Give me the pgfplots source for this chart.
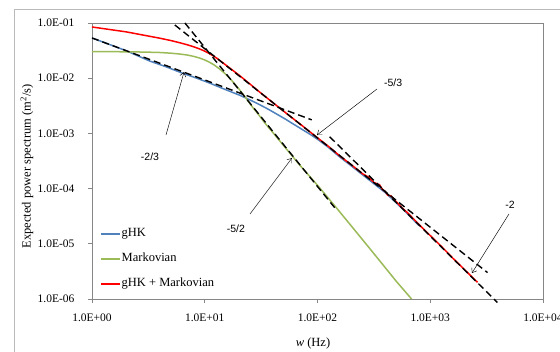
\documentclass[border=0pt]{standalone}
\usepackage{fontspec}
\setmainfont{Liberation Serif}
\newfontfamily\arialfont{Liberation Sans}
\usepackage{pgfplots}
\pgfplotsset{compat=1.18}
\usetikzlibrary{arrows.meta}
\definecolor{ghk}{HTML}{4F81BD}
\definecolor{markv}{HTML}{9BBB59}
\definecolor{sumred}{HTML}{FF0000}
\definecolor{framec}{HTML}{868686}
\begin{document}
\begin{tikzpicture}[x=1pt,y=1pt]
\draw[gray!55, line width=0.8pt] (14,-10) -- (14,343) -- (575,343);
\begin{axis}[
  at={(92pt,53pt)}, anchor=south west,
  scale only axis, width=451pt, height=276pt,
  xmode=log, ymode=log,
  xmin=1, xmax=10000, ymin=1e-6, ymax=1e-1,
  xtick={1,10,100,1000,10000},
  xticklabels={1.0E+00,1.0E+01,1.0E+02,1.0E+03,1.0E+04},
  ytick={1e-6,1e-5,1e-4,1e-3,1e-2,1e-1},
  yticklabels={1.0E-06,1.0E-05,1.0E-04,1.0E-03,1.0E-02,1.0E-01},
  xminorticks=false, yminorticks=false,
  tick align=outside, tick pos=left, major tick length=4pt,
  axis line style={framec}, every tick/.style={framec, line width=0.6pt},
  xticklabel style={font=\fontsize{11.5}{13}\selectfont, yshift=-7pt},
  yticklabel style={font=\fontsize{11.5}{13}\selectfont, xshift=-10pt},
  xlabel={\textit{w} (Hz)},
  ylabel={Expected power spectrum (m\textsuperscript{2}/s)},
  label style={font=\fontsize{12.5}{14}\selectfont},
  xlabel style={at={(axis description cs:0.49,0)}, anchor=center, yshift=-44pt},
  ylabel style={at={(axis description cs:0,0.48)}, anchor=center, yshift=65pt},
  clip=false,
  legend cell align=left,
  legend image code/.code={\draw[#1] (0pt,0pt) -- (19pt,0pt);},
  legend style={at={(axis description cs:0.0177,0.262)}, anchor=north west,
    draw=none, fill=none, inner sep=0pt, row sep=11pt,
    font=\fontsize{12.5}{14}\selectfont,
    nodes={inner sep=1pt, text height=9pt, text depth=3pt}},
]
\addplot[ghk, line width=1.5pt] coordinates {
(1,5.36e-2)(2,3.16e-2)(3.26,2.04e-2)(4.5,1.62e-2)(6.27,1.245e-2)(8.5,1.00e-2)
(11.1,8.13e-3)(15,6.31e-3)(20.5,4.90e-3)(25,4.07e-3)(30.7,3.31e-3)(36,2.79e-3)
(41,2.40e-3)(51.3,1.84e-3)(60,1.51e-3)(70,1.245e-3)(85,9.77e-4)(100,7.85e-4)
(126,5.50e-4)(158,3.72e-4)(200,2.57e-4)(251,1.78e-4)(316,1.23e-4)(398,8.51e-5)
(501,5.50e-5)(631,3.47e-5)(794,2.14e-5)};
\addlegendentry{gHK}
\addplot[markv, line width=1.5pt] coordinates {
(1,3.03e-2)(2,3.01e-2)(3,2.97e-2)(4,2.92e-2)(5,2.84e-2)(6,2.74e-2)(7,2.63e-2)
(8,2.48e-2)(9,2.32e-2)(10,2.14e-2)(11,1.95e-2)(12,1.76e-2)(13.5,1.48e-2)
(15,1.23e-2)(17,9.55e-3)(20,6.46e-3)(23,4.47e-3)(26,3.16e-3)(30,2.19e-3)
(35,1.45e-3)(40,1.05e-3)(50,6.03e-4)(70,2.63e-4)(100,1.15e-4)(150,4.27e-5)
(200,2.09e-5)(300,7.59e-6)(500,2.09e-6)(683,1.0e-6)};
\addlegendentry{Markovian}
\addplot[sumred, line width=1.5pt] coordinates {
(1,8.47e-2)(2,6.92e-2)(3,5.92e-2)(4,5.30e-2)(5,4.81e-2)(6,4.39e-2)(7,4.03e-2)
(8,3.70e-2)(9,3.39e-2)(10,3.09e-2)(11,2.79e-2)(12,2.51e-2)(13,2.25e-2)(14,2.00e-2)
(15,1.80e-2)(17,1.48e-2)(20,1.15e-2)(25,7.94e-3)(30,5.82e-3)(39.8,3.67e-3)
(51.3,2.43e-3)(70,1.48e-3)(100,8.32e-4)(126,5.75e-4)(158,3.89e-4)(200,2.69e-4)
(251,1.86e-4)(282,1.62e-4)(316,1.29e-4)(355,1.175e-4)(375,9.77e-5)(398,8.91e-5)
(420,7.59e-5)(447,7.41e-5)(501,5.75e-5)(562,4.47e-5)(631,3.63e-5)(794,2.24e-5)
(1000,1.41e-5)(1259,8.91e-6)(1585,5.50e-6)(1995,3.47e-6)(2630,2.00e-6)};
\addlegendentry{gHK + Markovian}
\pgfplotsset{dsh/.style={black, line width=1.4pt, dash pattern=on 7pt off 4pt, forget plot}}
\addplot[dsh] coordinates {(1,5.36e-2)(88.9,1.76e-3)};
\addplot[dsh] coordinates {(5.43,9.20e-2)(3220,3.01e-6)};
\addplot[dsh] coordinates {(6.67,0.1)(142,4.52e-5)};
\addplot[dsh] coordinates {(128.3,8.69e-4)(3945,8.65e-7)};
\tikzset{arr/.style={black, line width=0.45pt, -{Straight Barb[length=4pt,width=6pt]}},
  lab/.style={font=\arialfont\fontsize{10.5}{12}\selectfont}}
\draw[arr] (axis cs:4.53,9.35e-4) -- (axis cs:6.55,1.29e-2);
\node[lab] at (axis cs:3.27,3.73e-4) {-2/3};
\draw[arr] (axis cs:25.2,3.47e-5) -- (axis cs:59.4,3.58e-4);
\node[lab] at (axis cs:18.9,1.85e-5) {-5/2};
\draw[arr] (axis cs:337,6.37e-3) -- (axis cs:99,9.35e-4);
\node[lab] at (axis cs:468,8.18e-3) {-5/3};
\draw[arr] (axis cs:4990,3.47e-5) -- (axis cs:2345,2.96e-6);
\node[lab] at (axis cs:5095,5.05e-5) {-2};
\end{axis}
\pgfresetboundingbox
\path[use as bounding box] (0,0) rectangle (560,352);
\end{tikzpicture}
\end{document}
